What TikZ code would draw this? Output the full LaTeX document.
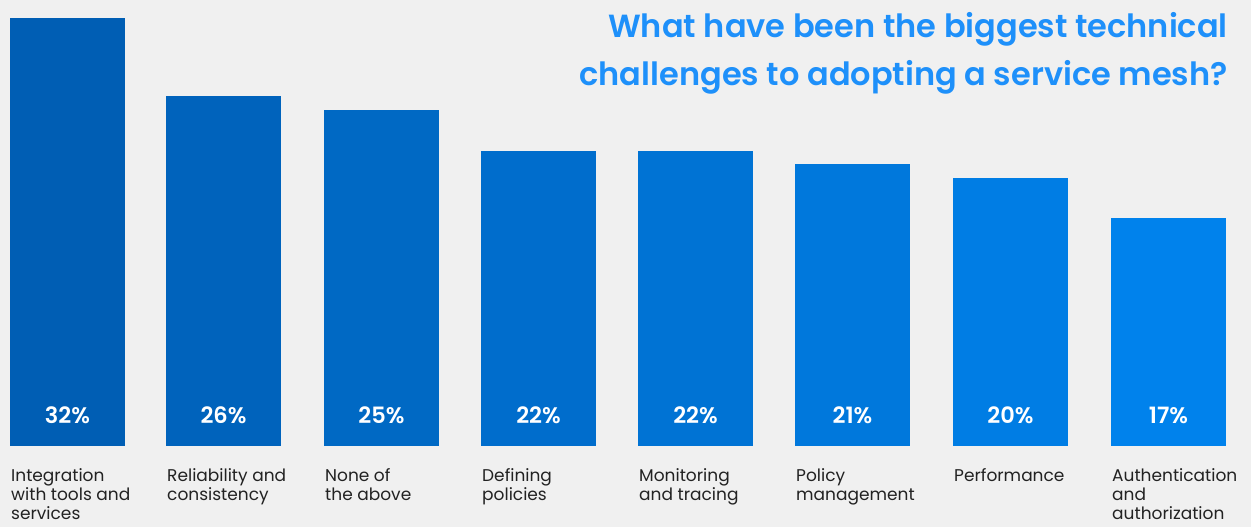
\documentclass[tikz,border=0pt]{standalone}
\usepackage{fontspec}
\setmainfont{Poppins}
\newfontfamily\semib{Poppins SemiBold}
\definecolor{bg}{HTML}{F0F0F0}
\definecolor{ttl}{HTML}{1E90FA}
\definecolor{lbl}{HTML}{222222}
\definecolor{cA}{HTML}{005EB4}
\definecolor{cB}{HTML}{0082EC}
\begin{document}
\begin{tikzpicture}[x=1pt,y=-1pt,
  pct/.style={text=white,font=\fontsize{22.5}{22.5}\selectfont\semib,anchor=base},
  cat/.style={text=lbl,font=\fontsize{17}{19}\selectfont,anchor=north west,align=left,inner sep=0pt},
  title/.style={text=ttl,font=\fontsize{32}{47}\selectfont\semib,anchor=base east,inner sep=0pt}]
\fill[bg] (0,0) rectangle (1251,527);
\useasboundingbox (0,0) rectangle (1251,527);
\foreach \i/\x/\t/\p/\l in {
  0/10/18/32/{Integration\\with tools and\\services},
  1/166/96/26/{Reliability and\\consistency},
  2/324/110/25/{None of\\the above},
  3/481/151/22/{Defining\\policies},
  4/638/151/22/{Monitoring\\and tracing},
  5/795/164/21/{Policy\\management},
  6/953/178/20/{Performance},
  7/1111/218/17/{Authentication\\and\\authorization}}{
  \pgfmathtruncatemacro{\mix}{100-\i*100/7}
  \fill[cA!\mix!cB] (\x,\t) rectangle ++(115,446-\t) coordinate (b\i);
  \node[pct] (p\i) at (\x+57.5,423) {\p\%};
  \node[cat] (l\i) at (\x+1,468) {\l};
}
\node[title] (t1) at (1228,38) {What have been the biggest technical};
\node[title] (t2) at (1228,85) {challenges to adopting a service mesh?};
\end{tikzpicture}
\end{document}
